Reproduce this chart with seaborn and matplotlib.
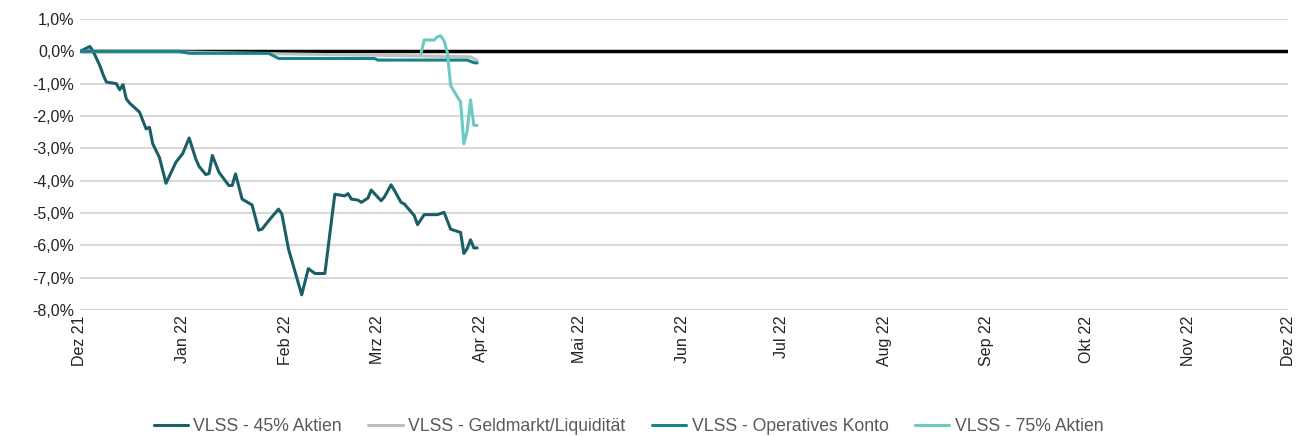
import matplotlib
matplotlib.use("Agg")
import matplotlib.pyplot as plt
from matplotlib.ticker import FuncFormatter
import seaborn as sns
import pandas as pd

# ----------------------------
# DATA (values in %)
# ----------------------------
aktien45_dates = [
    "2021-12-01", "2021-12-04", "2021-12-05", "2021-12-07", "2021-12-08", "2021-12-09",
    "2021-12-12", "2021-12-13", "2021-12-14", "2021-12-15", "2021-12-16", "2021-12-19",
    "2021-12-21", "2021-12-22", "2021-12-23", "2021-12-25", "2021-12-27", "2021-12-30",
    "2022-01-01", "2022-01-03", "2022-01-05", "2022-01-06", "2022-01-08", "2022-01-09",
    "2022-01-10", "2022-01-12", "2022-01-15", "2022-01-16", "2022-01-17", "2022-01-19",
    "2022-01-22", "2022-01-24", "2022-01-25", "2022-01-27", "2022-01-30", "2022-01-31",
    "2022-02-02", "2022-02-06", "2022-02-08", "2022-02-10", "2022-02-13", "2022-02-16",
    "2022-02-19", "2022-02-20", "2022-02-21", "2022-02-23", "2022-02-24", "2022-02-26",
    "2022-02-27", "2022-03-02", "2022-03-03", "2022-03-05", "2022-03-06", "2022-03-08",
    "2022-03-09", "2022-03-12", "2022-03-13", "2022-03-15", "2022-03-19", "2022-03-21",
    "2022-03-23", "2022-03-26", "2022-03-27", "2022-03-28", "2022-03-29", "2022-03-30",
    "2022-03-31",
]
aktien45_values = [
    0.00, 0.15, 0.00, -0.44, -0.72, -0.95,
    -1.00, -1.19, -1.03, -1.47, -1.60, -1.88,
    -2.40, -2.35, -2.86, -3.28, -4.08, -3.43,
    -3.17, -2.68, -3.33, -3.56, -3.81, -3.78,
    -3.22, -3.74, -4.15, -4.15, -3.79, -4.57,
    -4.75, -5.53, -5.50, -5.24, -4.88, -5.03,
    -6.11, -7.53, -6.72, -6.87, -6.87, -4.42,
    -4.47, -4.40, -4.57, -4.60, -4.67, -4.54,
    -4.29, -4.62, -4.50, -4.13, -4.30, -4.67,
    -4.72, -5.08, -5.36, -5.05, -5.05, -4.98,
    -5.50, -5.60, -6.25, -6.10, -5.83, -6.08,
    -6.08,
]

geld_dates = ["2021-12-01", "2022-01-01", "2022-02-01", "2022-03-01", "2022-03-29", "2022-03-31"]
geld_values = [0.00, -0.02, -0.08, -0.12, -0.17, -0.28]

konto_dates = ["2021-12-01", "2021-12-31", "2022-01-03", "2022-01-27", "2022-01-30",
               "2022-02-28", "2022-03-01", "2022-03-28", "2022-03-30", "2022-03-31"]
konto_values = [0.00, 0.00, -0.06, -0.06, -0.22, -0.22, -0.27, -0.27, -0.35, -0.36]

aktien75_dates = ["2022-03-14", "2022-03-15", "2022-03-18", "2022-03-19", "2022-03-20",
                  "2022-03-21", "2022-03-22", "2022-03-23", "2022-03-26", "2022-03-27",
                  "2022-03-28", "2022-03-29", "2022-03-30", "2022-03-31"]
aktien75_values = [-0.08, 0.35, 0.35, 0.45, 0.48, 0.33, -0.03, -1.06, -1.57, -2.86,
                   -2.45, -1.50, -2.29, -2.29]

series_names = ["VLSS - 45% Aktien", "VLSS - Geldmarkt/Liquidität",
                "VLSS - Operatives Konto", "VLSS - 75% Aktien"]
series_colors = ["#1b5f66", "#bfbfbf", "#17828a", "#6ccac3"]

month_labels = ["Dez 21", "Jan 22", "Feb 22", "Mrz 22", "Apr 22", "Mai 22", "Jun 22",
                "Jul 22", "Aug 22", "Sep 22", "Okt 22", "Nov 22", "Dez 22"]

# ----------------------------
# BUILD LONG TABLE
# ----------------------------
frames = []
for name, d, v in zip(series_names,
                      [aktien45_dates, geld_dates, konto_dates, aktien75_dates],
                      [aktien45_values, geld_values, konto_values, aktien75_values]):
    frames.append(pd.DataFrame({"Datum": pd.to_datetime(d), "Wert": v, "Serie": name}))
df = pd.concat(frames, ignore_index=True)

# ----------------------------
# PLOT
# ----------------------------
sns.set_theme(style="white")
plt.rcParams['font.family'] = ['Liberation Sans', 'DejaVu Sans']

fig = plt.figure(figsize=(13.02, 4.37), dpi=100)
ax = fig.add_axes([0.0614, 0.2906, 0.9279, 0.6659])

sns.lineplot(data=df, x="Datum", y="Wert", hue="Serie", hue_order=series_names,
             palette=series_colors, linewidth=2.2, ax=ax, estimator=None, sort=True)

ax.axhline(0, color="black", linewidth=2.5, zorder=1.5)

ax.set_ylim(-8, 1)
ax.set_yticks(range(-8, 2))
ax.yaxis.set_major_formatter(FuncFormatter(lambda v, p: f"{v:.1f}%".replace(".", ",")))
ax.grid(axis="y", color="#d9d9d9", linewidth=1.5)
ax.set_axisbelow(True)

ticks = pd.date_range("2021-12-01", "2022-12-01", freq="MS")
ax.set_xlim(ticks[0], ticks[-1])
ax.set_xticks(ticks)
ax.set_xticklabels(month_labels, rotation=90)

for s in ax.spines.values():
    s.set_visible(False)
ax.tick_params(axis="both", labelsize=11.5, colors="#222222", length=0, pad=4)
ax.set_xlabel("")
ax.set_ylabel("")

ax.legend(loc="center", bbox_to_anchor=(0.454, -0.40), ncol=4, frameon=False,
          fontsize=12.7, labelcolor="#595959", handlelength=1.95, columnspacing=1.5,
          handletextpad=0.3)

plt.savefig("out.png", dpi=100)
plt.close()
